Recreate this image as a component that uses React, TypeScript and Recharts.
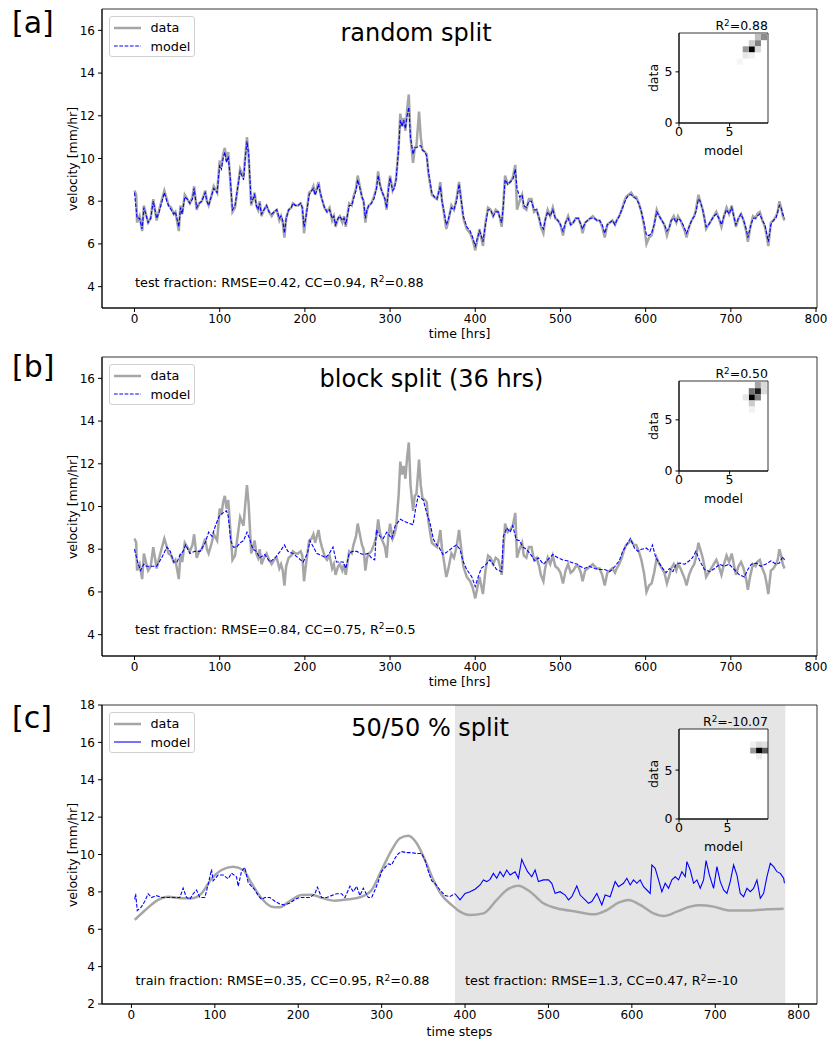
import React from "react";
import { LineChart, Line, XAxis, YAxis, ReferenceArea, ComposedChart } from "recharts";

type Pt = [number, number];
type Cell = [number, number, number];

const FONT = "'DejaVu Sans', sans-serif";

const hourTicks = [0, 100, 200, 300, 400, 500, 600, 700, 800];
const velTicks = [4, 6, 8, 10, 12, 14, 16];
const velTicksWide = [2, 4, 6, 8, 10, 12, 14, 16, 18];
const insetTicks = [0, 5];

// measured velocity, [hrs, mm/hr]
const observed: Pt[] = [
  [0, 8.5], [2, 8.3], [3, 7.0], [6, 7.3], [9, 6.6], [11, 7.8], [14, 7.3], [16, 7.0], [19, 7.2], [22, 8.1],
  [24, 7.6], [26, 7.1], [29, 7.6], [31, 7.9], [35, 8.5], [38, 8.1], [40, 7.8], [43, 7.7], [46, 7.4], [48, 7.5],
  [52, 6.6], [54, 7.8], [56, 7.4], [59, 8.3], [62, 8.1], [65, 7.9], [68, 8.2], [70, 8.7], [73, 7.6], [76, 7.9],
  [79, 8.0], [83, 8.5], [85, 8.0], [87, 7.8], [90, 8.2], [93, 8.7], [97, 8.4], [100, 9.9], [102, 9.6], [104, 10.2],
  [106, 10.5], [108, 9.9], [110, 10.3], [112, 9.2], [115, 7.5], [118, 7.7], [121, 8.6], [124, 9.5], [126, 9.3], [128, 9.1],
  [130, 10.1], [132, 11.0], [134, 10.1], [137, 7.8], [139, 8.1], [141, 8.4], [143, 7.8], [145, 7.6], [147, 8.0], [149, 7.3],
  [152, 7.6], [155, 7.8], [158, 7.5], [161, 7.3], [164, 7.5], [167, 7.6], [170, 7.1], [172, 7.3], [174, 7.0], [176, 6.3],
  [178, 7.2], [181, 7.6], [184, 7.7], [186, 7.9], [189, 7.8], [192, 7.8], [195, 7.9], [197, 7.7], [199, 6.5], [201, 7.2],
  [205, 8.4], [208, 8.5], [210, 8.7], [212, 8.3], [214, 8.6], [216, 8.9], [218, 8.4], [220, 8.1], [223, 7.7], [226, 7.5],
  [229, 7.7], [232, 7.1], [234, 7.3], [236, 6.8], [239, 7.2], [241, 7.3], [244, 7.0], [246, 7.3], [248, 6.8], [252, 7.9],
  [255, 7.8], [257, 8.2], [260, 8.6], [262, 9.2], [264, 8.8], [267, 8.2], [269, 8.0], [271, 7.0], [273, 7.6], [275, 7.8],
  [278, 7.9], [281, 8.2], [284, 8.6], [286, 9.4], [288, 8.8], [290, 8.5], [292, 8.3], [294, 8.1], [296, 7.6], [298, 8.6],
  [300, 9.2], [303, 8.5], [305, 8.7], [307, 9.0], [310, 10.5], [312, 12.1], [314, 11.5], [316, 11.9], [318, 11.3], [320, 12.3],
  [322, 13.0], [324, 11.0], [327, 9.8], [329, 10.5], [331, 10.6], [334, 12.2], [336, 11.0], [338, 10.4], [341, 10.3], [343, 10.2],
  [345, 9.3], [347, 8.8], [349, 8.3], [352, 8.2], [355, 8.1], [357, 8.4], [359, 8.9], [361, 8.0], [363, 7.5], [366, 6.7],
  [368, 7.0], [370, 7.4], [372, 7.8], [375, 7.6], [378, 8.1], [381, 8.9], [383, 8.2], [386, 7.2], [390, 6.7], [394, 6.5],
  [397, 6.2], [400, 5.7], [402, 6.1], [405, 6.7], [407, 6.3], [409, 5.9], [412, 7.0], [415, 7.7], [418, 7.6], [421, 7.3],
  [424, 7.6], [427, 7.5], [429, 7.2], [431, 6.8], [433, 7.9], [435, 9.2], [438, 8.8], [441, 8.9], [444, 9.1], [447, 9.7],
  [449, 7.6], [452, 8.0], [455, 8.3], [457, 7.7], [460, 7.6], [463, 8.1], [466, 8.1], [469, 7.5], [472, 7.6], [475, 7.2],
  [477, 6.8], [480, 6.5], [482, 7.1], [485, 7.6], [488, 7.3], [491, 7.7], [494, 7.2], [497, 7.1], [500, 6.9], [503, 6.4],
  [506, 7.0], [509, 7.3], [512, 6.9], [515, 7.0], [518, 7.2], [521, 7.2], [524, 6.9], [526, 6.5], [529, 7.0], [532, 7.1],
  [535, 7.2], [538, 7.3], [540, 7.2], [543, 7.1], [546, 7.1], [549, 6.8], [552, 6.3], [555, 6.9], [558, 7.0], [561, 7.1],
  [564, 6.9], [566, 7.1], [569, 7.3], [572, 7.6], [575, 8.0], [577, 8.2], [580, 8.3], [583, 8.4], [586, 8.2], [589, 8.2],
  [592, 7.9], [595, 7.5], [598, 6.9], [601, 6.0], [604, 6.3], [607, 6.4], [610, 6.9], [613, 7.6], [616, 7.3], [619, 7.1],
  [622, 6.9], [625, 6.4], [628, 6.8], [630, 7.1], [633, 7.3], [636, 7.0], [638, 7.3], [641, 7.1], [644, 6.8], [646, 6.6],
  [648, 6.3], [651, 6.8], [654, 7.1], [657, 7.3], [659, 7.6], [662, 8.3], [664, 8.0], [667, 7.6], [669, 7.2], [671, 6.7],
  [674, 6.9], [677, 7.1], [680, 7.3], [683, 7.5], [686, 7.2], [689, 6.8], [692, 7.3], [695, 7.7], [698, 7.4], [701, 7.8],
  [704, 7.2], [706, 6.8], [709, 7.2], [712, 7.4], [715, 7.1], [718, 6.6], [720, 6.1], [723, 6.8], [726, 7.3], [729, 7.2],
  [731, 7.4], [734, 7.5], [737, 7.1], [740, 6.8], [742, 6.4], [744, 5.9], [747, 7.0], [750, 7.1], [753, 7.3], [755, 7.5],
  [757, 8.0], [759, 7.7], [761, 7.3], [763, 7.1],
];

// model trained on a random split
const modelRandom: Pt[] = [
  [0, 8.4], [3, 7.2], [6, 7.2], [9, 6.7], [11, 7.7], [14, 7.3], [16, 7.0], [19, 7.2], [22, 8.0], [26, 7.2],
  [29, 7.5], [31, 7.8], [35, 8.4], [38, 8.0], [40, 7.8], [43, 7.6], [46, 7.4], [48, 7.5], [52, 6.8], [54, 7.7],
  [56, 7.4], [59, 8.2], [62, 8.1], [65, 7.9], [68, 8.1], [70, 8.6], [73, 7.7], [76, 7.9], [79, 8.0], [83, 8.4],
  [85, 8.0], [87, 7.8], [90, 8.2], [93, 8.6], [97, 8.4], [100, 9.7], [102, 9.5], [104, 10.0], [106, 10.3], [108, 9.8],
  [110, 10.1], [112, 9.3], [115, 7.6], [118, 7.8], [121, 8.6], [124, 9.4], [126, 9.2], [128, 9.0], [130, 10.0], [132, 10.8],
  [134, 10.2], [137, 7.9], [139, 8.1], [141, 8.3], [143, 7.8], [145, 7.6], [147, 7.9], [149, 7.4], [152, 7.6], [155, 7.8],
  [158, 7.5], [161, 7.4], [164, 7.5], [167, 7.6], [170, 7.2], [172, 7.3], [174, 7.1], [176, 6.5], [178, 7.2], [181, 7.6],
  [184, 7.7], [186, 7.9], [189, 7.8], [192, 7.8], [195, 7.9], [197, 7.7], [199, 6.8], [201, 7.2], [205, 8.3], [208, 8.5],
  [210, 8.6], [212, 8.3], [214, 8.5], [216, 8.8], [218, 8.4], [220, 8.1], [223, 7.7], [226, 7.5], [229, 7.6], [232, 7.2],
  [234, 7.3], [236, 6.9], [239, 7.2], [241, 7.3], [244, 7.1], [246, 7.2], [248, 6.9], [252, 7.8], [255, 7.8], [257, 8.1],
  [260, 8.5], [262, 9.0], [264, 8.7], [267, 8.2], [269, 8.0], [271, 7.2], [273, 7.6], [275, 7.8], [278, 7.9], [281, 8.1],
  [284, 8.6], [286, 9.2], [288, 8.8], [290, 8.5], [292, 8.3], [294, 8.1], [296, 7.7], [298, 8.5], [300, 9.1], [303, 8.5],
  [305, 8.6], [307, 9.0], [310, 10.4], [312, 11.8], [314, 11.5], [316, 11.8], [318, 11.4], [320, 12.0], [322, 12.4], [324, 11.0],
  [327, 10.2], [329, 10.5], [331, 10.5], [334, 10.6], [336, 10.6], [338, 10.4], [341, 10.3], [343, 10.1], [345, 9.4], [347, 8.9],
  [349, 8.4], [352, 8.2], [355, 8.1], [357, 8.4], [359, 8.7], [361, 8.0], [363, 7.6], [366, 6.9], [368, 7.1], [370, 7.4],
  [372, 7.7], [375, 7.6], [378, 8.0], [381, 8.8], [383, 8.2], [386, 7.3], [390, 6.8], [394, 6.6], [397, 6.3], [400, 5.9],
  [402, 6.2], [405, 6.6], [407, 6.4], [409, 6.1], [412, 6.9], [415, 7.6], [418, 7.6], [421, 7.3], [424, 7.5], [427, 7.5],
  [429, 7.2], [431, 7.0], [433, 7.8], [435, 9.0], [438, 8.8], [441, 8.9], [444, 9.0], [447, 9.5], [449, 8.6], [452, 8.2],
  [455, 8.3], [457, 7.8], [460, 7.7], [463, 8.0], [466, 8.0], [469, 7.6], [472, 7.6], [475, 7.2], [477, 6.9], [480, 6.7],
  [482, 7.1], [485, 7.5], [488, 7.3], [491, 7.6], [494, 7.2], [497, 7.1], [500, 6.9], [503, 6.6], [506, 7.0], [509, 7.2],
  [512, 6.9], [515, 7.0], [518, 7.2], [521, 7.2], [524, 6.9], [526, 6.7], [529, 7.0], [532, 7.1], [535, 7.2], [538, 7.2],
  [540, 7.2], [543, 7.1], [546, 7.1], [549, 6.9], [552, 6.5], [555, 6.9], [558, 7.0], [561, 7.1], [564, 6.9], [566, 7.1],
  [569, 7.3], [572, 7.6], [575, 7.9], [577, 8.1], [580, 8.3], [583, 8.3], [586, 8.2], [589, 8.1], [592, 7.9], [595, 7.5],
  [598, 7.0], [601, 6.4], [604, 6.4], [607, 6.5], [610, 6.9], [613, 7.5], [616, 7.3], [619, 7.1], [622, 6.9], [625, 6.6],
  [628, 6.8], [630, 7.1], [633, 7.2], [636, 7.0], [638, 7.2], [641, 7.1], [644, 6.9], [646, 6.7], [648, 6.5], [651, 6.8],
  [654, 7.1], [657, 7.3], [659, 7.5], [662, 8.1], [664, 8.0], [667, 7.6], [669, 7.2], [671, 6.8], [674, 6.9], [677, 7.1],
  [680, 7.3], [683, 7.4], [686, 7.2], [689, 6.9], [692, 7.3], [695, 7.6], [698, 7.4], [701, 7.7], [704, 7.2], [706, 6.9],
  [709, 7.2], [712, 7.4], [715, 7.1], [718, 6.7], [720, 6.3], [723, 6.8], [726, 7.2], [729, 7.2], [731, 7.3], [734, 7.4],
  [737, 7.1], [740, 6.9], [742, 6.5], [744, 6.1], [747, 6.9], [750, 7.1], [753, 7.2], [755, 7.5], [757, 7.8], [759, 7.7],
  [761, 7.4], [763, 7.2],
];

// model trained on 36 hr blocks
const modelBlock: Pt[] = [
  [0, 8.0], [3, 7.5], [7, 7.0], [11, 7.3], [14, 7.2], [20, 7.2], [26, 7.2], [32, 7.6], [38, 8.1], [42, 7.9],
  [46, 7.4], [50, 7.4], [53, 7.7], [57, 7.9], [60, 8.2], [65, 7.8], [71, 7.9], [77, 7.9], [83, 8.3], [87, 8.8],
  [91, 8.6], [95, 9.1], [100, 9.6], [104, 9.7], [108, 9.8], [110, 9.55], [113, 8.4], [116, 8.1], [120, 8.1], [124, 8.3],
  [128, 8.4], [132, 8.8], [135, 8.5], [139, 8.0], [143, 7.9], [147, 7.6], [153, 7.75], [159, 7.4], [165, 7.6], [171, 7.9],
  [176, 8.2], [180, 7.9], [186, 7.8], [192, 7.6], [198, 7.4], [203, 7.8], [206, 8.4], [210, 8.1], [214, 7.8], [220, 7.7],
  [224, 7.6], [228, 7.75], [233, 8.1], [237, 7.4], [241, 7.4], [245, 7.4], [248, 7.1], [252, 7.8], [256, 7.9], [261, 7.9],
  [265, 7.8], [269, 7.75], [274, 7.8], [278, 7.6], [282, 7.5], [284, 8.9], [288, 8.6], [292, 8.5], [296, 8.8], [302, 8.5],
  [306, 9.1], [312, 9.4], [317, 9.3], [323, 9.2], [327, 9.15], [330, 9.9], [333, 10.5], [339, 10.3], [343, 9.7], [347, 9.2],
  [351, 8.45], [355, 8.2], [358, 8.05], [362, 7.75], [368, 7.9], [374, 8.1], [378, 8.2], [382, 8.0], [386, 7.4], [390, 7.05],
  [396, 6.7], [400, 6.25], [403, 6.65], [407, 7.1], [413, 7.3], [417, 7.5], [421, 7.3], [425, 7.05], [431, 6.95], [433, 8.6],
  [437, 9.0], [441, 8.8], [444, 9.1], [448, 8.45], [452, 8.4], [456, 8.1], [460, 8.0], [466, 7.7], [470, 7.45], [474, 7.6],
  [480, 7.3], [485, 7.5], [491, 7.75], [497, 7.6], [503, 7.5], [509, 7.45], [515, 7.35], [520, 7.3], [523, 7.2], [528, 7.1],
  [534, 7.2], [540, 7.1], [546, 7.05], [552, 7.05], [558, 6.95], [564, 7.2], [569, 7.45], [573, 7.9], [577, 8.15], [582, 8.5],
  [587, 8.05], [591, 7.9], [595, 8.0], [601, 8.05], [605, 7.9], [608, 8.2], [612, 7.6], [616, 7.35], [620, 7.1], [624, 6.9],
  [628, 7.1], [632, 6.95], [636, 7.3], [640, 7.35], [646, 7.3], [651, 7.45], [655, 7.6], [659, 7.9], [663, 7.5], [669, 7.05],
  [675, 6.95], [681, 7.1], [687, 7.3], [692, 7.2], [698, 7.3], [704, 7.05], [710, 6.8], [716, 6.7], [720, 7.05], [724, 7.3],
  [730, 7.35], [735, 7.2], [741, 7.3], [747, 7.45], [753, 7.3], [757, 7.35], [761, 7.65], [763, 7.5],
];

// smoothed series for the 50/50 split, [time step, mm/hr]
const observedSmooth: Pt[] = [
  [4, 6.5], [16, 7.0], [32, 7.57], [44, 7.74], [60, 7.66], [72, 7.66], [84, 7.92], [96, 8.7], [108, 9.17], [122, 9.35],
  [134, 9.17], [144, 8.46], [156, 7.66], [168, 7.21], [178, 7.18], [188, 7.45], [204, 7.83], [216, 7.85], [228, 7.68], [244, 7.53],
  [260, 7.6], [276, 7.74], [288, 8.1], [300, 9.17], [312, 10.24], [322, 10.87], [332, 11.0], [342, 10.6], [352, 9.7], [362, 8.64],
  [372, 7.83], [384, 7.3], [394, 6.94], [406, 6.76], [422, 6.85], [438, 7.57], [450, 8.1], [464, 8.33], [478, 8.01], [494, 7.39],
  [510, 7.12], [534, 6.94], [554, 6.8], [570, 7.03], [584, 7.42], [596, 7.57], [610, 7.3], [626, 6.85], [638, 6.71], [654, 6.94],
  [670, 7.21], [682, 7.28], [698, 7.21], [718, 7.0], [742, 7.0], [762, 7.07], [782, 7.1],
];

const modelTrain: Pt[] = [
  [4, 7.6], [5, 7.9], [7, 7.0], [12, 7.2], [16, 7.5], [20, 7.9], [24, 7.7], [30, 7.8], [36, 7.7], [44, 7.7],
  [52, 7.7], [58, 7.7], [62, 8.2], [66, 7.7], [70, 7.6], [74, 7.9], [78, 8.1], [82, 7.7], [88, 7.7], [92, 8.4],
  [96, 9.2], [98, 8.6], [104, 8.9], [110, 8.9], [116, 8.7], [120, 9.0], [126, 8.8], [128, 8.3], [132, 9.1], [136, 9.3],
  [140, 8.5], [144, 8.3], [148, 8.1], [152, 7.8], [156, 7.6], [160, 7.7], [166, 7.7], [172, 7.5], [178, 7.35], [184, 7.3],
  [190, 7.4], [196, 7.6], [202, 7.7], [208, 7.7], [214, 7.7], [220, 7.9], [223, 8.25], [228, 7.7], [234, 7.7], [240, 7.8],
  [246, 7.9], [252, 7.9], [256, 7.7], [262, 8.3], [266, 8.0], [270, 8.3], [274, 7.8], [278, 8.2], [284, 7.7], [288, 7.7],
  [292, 8.1], [296, 8.55], [300, 9.1], [304, 9.3], [308, 9.5], [312, 9.45], [316, 9.8], [320, 10.05], [324, 10.15], [330, 10.1],
  [336, 10.1], [342, 10.05], [348, 10.05], [352, 9.7], [356, 9.1], [360, 8.6], [364, 8.45], [370, 8.1], [376, 7.8], [382, 7.75],
  [388, 7.9],
];

const modelTest: Pt[] = [
  [388, 7.9], [394, 7.57], [400, 7.92], [406, 8.01], [412, 8.14], [418, 8.37], [422, 8.64], [426, 8.55], [430, 8.67], [434, 8.99],
  [438, 8.73], [442, 9.08], [446, 8.81], [450, 9.17], [454, 8.9], [460, 9.08], [464, 8.73], [468, 9.74], [471, 9.44], [475, 9.08],
  [480, 8.81], [484, 9.17], [488, 8.55], [494, 8.64], [500, 8.64], [504, 8.46], [508, 7.92], [514, 8.01], [520, 7.83], [524, 7.57],
  [528, 7.74], [534, 8.32], [538, 7.83], [544, 7.57], [548, 7.39], [552, 7.48], [558, 7.92], [564, 7.3], [568, 7.83], [574, 7.74],
  [580, 8.55], [584, 8.28], [590, 8.46], [594, 8.73], [598, 8.37], [602, 8.64], [606, 8.46], [610, 8.64], [614, 8.28], [618, 8.1],
  [622, 7.92], [624, 9.44], [628, 9.26], [632, 8.64], [636, 8.01], [640, 8.46], [644, 8.19], [648, 8.64], [652, 8.81], [656, 8.64],
  [660, 9.08], [664, 8.81], [666, 9.62], [670, 9.17], [674, 8.46], [678, 8.64], [682, 8.19], [686, 8.64], [689, 9.67], [693, 8.9],
  [698, 8.19], [702, 9.35], [706, 8.55], [710, 8.1], [714, 7.92], [718, 8.55], [722, 9.44], [726, 8.9], [730, 7.92], [734, 7.74],
  [738, 8.19], [742, 8.01], [746, 8.19], [750, 8.64], [754, 7.66], [758, 7.92], [762, 8.81], [766, 9.53], [770, 9.35], [774, 9.08],
  [778, 8.99], [782, 8.73], [783, 8.46],
];

// 2d histogram cells, [model bin start, data bin start, density]
const histRandom: Cell[] = [
  [6.9, 6.9, 1], [6.3, 6.9, 0.4], [7.5, 7.5, 0.5], [7.5, 8.1, 0.25], [8.1, 8.1, 0.45],
  [6.9, 7.5, 0.2], [7.5, 6.9, 0.15], [6.3, 6.3, 0.1], [6.9, 6.3, 0.06], [5.7, 5.7, 0.04],
];
const histBlock: Cell[] = [
  [6.9, 6.9, 1], [7.5, 7.5, 0.9], [7.5, 8.1, 0.35], [6.9, 7.5, 0.55], [7.5, 6.9, 0.5],
  [6.9, 6.3, 0.2], [6.9, 5.7, 0.05], [8.1, 7.5, 0.15], [6.3, 6.9, 0.1], [8.1, 8.1, 0.15],
];
const histHalf: Cell[] = [
  [7.36, 6.7, 0.4], [7.97, 6.7, 1], [8.58, 6.7, 0.65], [7.97, 7.31, 0.15], [8.58, 7.31, 0.12],
  [7.97, 6.09, 0.08], [7.36, 7.31, 0.06],
];

const rows = (pts: Pt[]) => pts.map(([t, v]) => ({ t, v }));
const grey = (w: number) => {
  const c = Math.round(255 * (1 - w));
  return `rgb(${c},${c},${c})`;
};

const DATA_GREY = "#a6a6a6";
const BLUE = "#0000ff";
const DASH = "3.7 1.6";

function Txt({ x, y, size = 12.5, anchor = "start", rotate = false, children }: any) {
  const tx = anchor === "middle" ? "-50%" : anchor === "end" ? "-100%" : "0";
  return (
    <div
      style={{
        position: "absolute",
        left: x,
        top: y,
        transform: rotate ? "translate(-50%,-50%) rotate(-90deg)" : `translate(${tx},-50%)`,
        fontSize: size,
        fontFamily: FONT,
        lineHeight: 1,
        whiteSpace: "nowrap",
        color: "#000",
      }}
    >
      {children}
    </div>
  );
}

const Sup = ({ children }: any) => (
  <span style={{ fontSize: "0.7em", position: "relative", top: "-0.5em" }}>{children}</span>
);

function LegendBox({ solidModel }: { solidModel?: boolean }) {
  const item = (label: string, color: string, w: number, dash?: string) => (
    <div style={{ display: "flex", alignItems: "center", height: 18.7 }}>
      <svg width={36} height={10} style={{ marginLeft: 4 }}>
        <line x1={0} x2={27} y1={5} y2={5} stroke={color} strokeWidth={w} strokeDasharray={dash} />
      </svg>
      <span style={{ fontSize: 12.8, fontFamily: FONT, marginLeft: 1 }}>{label}</span>
    </div>
  );
  return (
    <div
      style={{
        position: "absolute",
        left: 108.5,
        top: 15.7,
        width: 86,
        height: 41.6,
        boxSizing: "border-box",
        border: "1px solid #d0d0d0",
        borderRadius: 3,
        background: "rgba(255,255,255,0.8)",
        paddingTop: 1.5,
      }}
    >
      {item("data", DATA_GREY, 2.5)}
      {item("model", BLUE, 1.1, solidModel ? undefined : DASH)}
    </div>
  );
}

function Inset({ top, r2, cells, max, bin }: { top: number; r2: string; cells: Cell[]; max: number; bin: number }) {
  const tick = { fill: "#000", fontSize: 12.5, fontFamily: FONT };
  return (
    <div style={{ position: "absolute", left: 640, top: top - 20, width: 170, height: 150 }}>
      <ComposedChart width={170} height={150} margin={{ top: 20, right: 42, bottom: 0, left: 0 }}>
        <XAxis type="number" dataKey="m" domain={[0, max]} ticks={insetTicks} allowDataOverflow height={40}
          tickSize={3.5} tickMargin={1} tick={tick} axisLine={{ stroke: "#000" }} tickLine={{ stroke: "#000" }} />
        <YAxis type="number" domain={[0, max]} ticks={insetTicks} allowDataOverflow width={39}
          tickSize={3.5} tickMargin={3} tick={tick} axisLine={{ stroke: "#000" }} tickLine={{ stroke: "#000" }} />
        <ReferenceArea x1={0} x2={max} y1={0} y2={max} fill="#fff" fillOpacity={1} stroke="none" />
        {cells.map(([m, d, w], i) => (
          <ReferenceArea key={i} x1={m} x2={Math.min(m + bin, max)} y1={d} y2={Math.min(d + bin, max)}
            fill={grey(w)} fillOpacity={1} stroke="none" />
        ))}
        <ReferenceArea x1={0} x2={max} y1={0} y2={max} fill="none" stroke="#000" strokeWidth={0.8} />
      </ComposedChart>
      <Txt x={128} y={13} anchor="end">
        R<Sup>2</Sup>={r2}
      </Txt>
      <Txt x={14} y={65} rotate>data</Txt>
      <Txt x={83.5} y={137.5} anchor="middle">model</Txt>
    </div>
  );
}

interface Series {
  pts: Pt[];
  color: string;
  width: number;
  dash?: string;
  curve?: "linear" | "monotone";
}

function TimePanel({ top, xDomain, yDomain, yTicks, series, shade, children }: any) {
  const tick = { fill: "#000", fontSize: 12, fontFamily: FONT };
  return (
    <div style={{ position: "absolute", left: 0, top, width: 828, height: 345 }}>
      <LineChart width={828} height={345} margin={{ top: 9, right: 11, bottom: 0, left: 0 }}>
        <XAxis type="number" dataKey="t" domain={xDomain} ticks={hourTicks} allowDataOverflow height={37}
          tickSize={4} tickMargin={2} tick={tick} interval={0} axisLine={{ stroke: "#000" }} tickLine={{ stroke: "#000" }} />
        <YAxis type="number" domain={yDomain} ticks={yTicks} allowDataOverflow width={102}
          tickSize={4} tickMargin={3} tick={tick} interval={0} axisLine={{ stroke: "#000" }} tickLine={{ stroke: "#000" }} />
        {shade && (
          <ReferenceArea x1={shade[0]} x2={shade[1]} y1={yDomain[0]} y2={yDomain[1]} fill="#e5e5e5" fillOpacity={1} stroke="none" />
        )}
        {(series as Series[]).map((s, i) => (
          <Line key={i} data={rows(s.pts)} dataKey="v" type={s.curve ?? "linear"} stroke={s.color}
            strokeWidth={s.width} strokeDasharray={s.dash} dot={false} activeDot={false} isAnimationActive={false} />
        ))}
        <ReferenceArea x1={xDomain[0]} x2={xDomain[1]} y1={yDomain[0]} y2={yDomain[1]} fill="none" stroke="#000" strokeWidth={0.8} />
      </LineChart>
      <Txt x={73} y={158.5} rotate>velocity [mm/hr]</Txt>
      {children}
    </div>
  );
}

export default function App() {
  const hrsDomain = [-38.15, 801.15];
  const stepDomain = [-35.3, 822];
  return (
    <div style={{ position: "absolute", left: 0, top: 0, width: 828, height: 1043, background: "#fff", overflow: "hidden" }}>
      <TimePanel
        top={0}
        xDomain={hrsDomain}
        yDomain={[3, 17]}
        yTicks={velTicks}
        series={[
          { pts: observed, color: DATA_GREY, width: 2.5 },
          { pts: modelRandom, color: BLUE, width: 1.1, dash: DASH },
        ]}
      >
        <Txt x={12} y={23} size={30}>[a]</Txt>
        <Txt x={416} y={33} size={24} anchor="middle">random split</Txt>
        <Txt x={459.5} y={334} anchor="middle">time [hrs]</Txt>
        <Txt x={135} y={282.5} size={12.8}>
          test fraction: RMSE=0.42, CC=0.94, R<Sup>2</Sup>=0.88
        </Txt>
        <LegendBox />
      </TimePanel>
      <Inset top={33.3} r2="0.88" cells={histRandom} max={8.8} bin={0.6} />

      <TimePanel
        top={348}
        xDomain={hrsDomain}
        yDomain={[3, 17]}
        yTicks={velTicks}
        series={[
          { pts: observed, color: DATA_GREY, width: 2.5 },
          { pts: modelBlock, color: BLUE, width: 1.1, dash: DASH },
        ]}
      >
        <Txt x={12} y={19} size={30}>[b]</Txt>
        <Txt x={431.5} y={30.5} size={24} anchor="middle">block split (36 hrs)</Txt>
        <Txt x={459.5} y={334} anchor="middle">time [hrs]</Txt>
        <Txt x={135} y={281.5} size={12.8}>
          test fraction: RMSE=0.84, CC=0.75, R<Sup>2</Sup>=0.5
        </Txt>
        <LegendBox />
      </TimePanel>
      <Inset top={381.3} r2="0.50" cells={histBlock} max={8.8} bin={0.6} />

      <TimePanel
        top={696}
        xDomain={stepDomain}
        yDomain={[2, 18]}
        yTicks={velTicksWide}
        shade={[388, 784]}
        series={[
          { pts: observedSmooth, color: DATA_GREY, width: 2.5, curve: "monotone" },
          { pts: modelTrain, color: BLUE, width: 1.1, dash: DASH },
          { pts: modelTest, color: BLUE, width: 1.1 },
        ]}
      >
        <Txt x={12} y={22} size={30}>[c]</Txt>
        <Txt x={430} y={32} size={24} anchor="middle">50/50 % split</Txt>
        <Txt x={459.5} y={336} anchor="middle">time steps</Txt>
        <Txt x={135.5} y={285} size={12.8}>
          train fraction: RMSE=0.35, CC=0.95, R<Sup>2</Sup>=0.88
        </Txt>
        <Txt x={465} y={285} size={12.8}>
          test fraction: RMSE=1.3, CC=0.47, R<Sup>2</Sup>=-10
        </Txt>
        <LegendBox solidModel />
      </TimePanel>
      <Inset top={729.3} r2="-10.07" cells={histHalf} max={9.2} bin={0.61} />
    </div>
  );
}
